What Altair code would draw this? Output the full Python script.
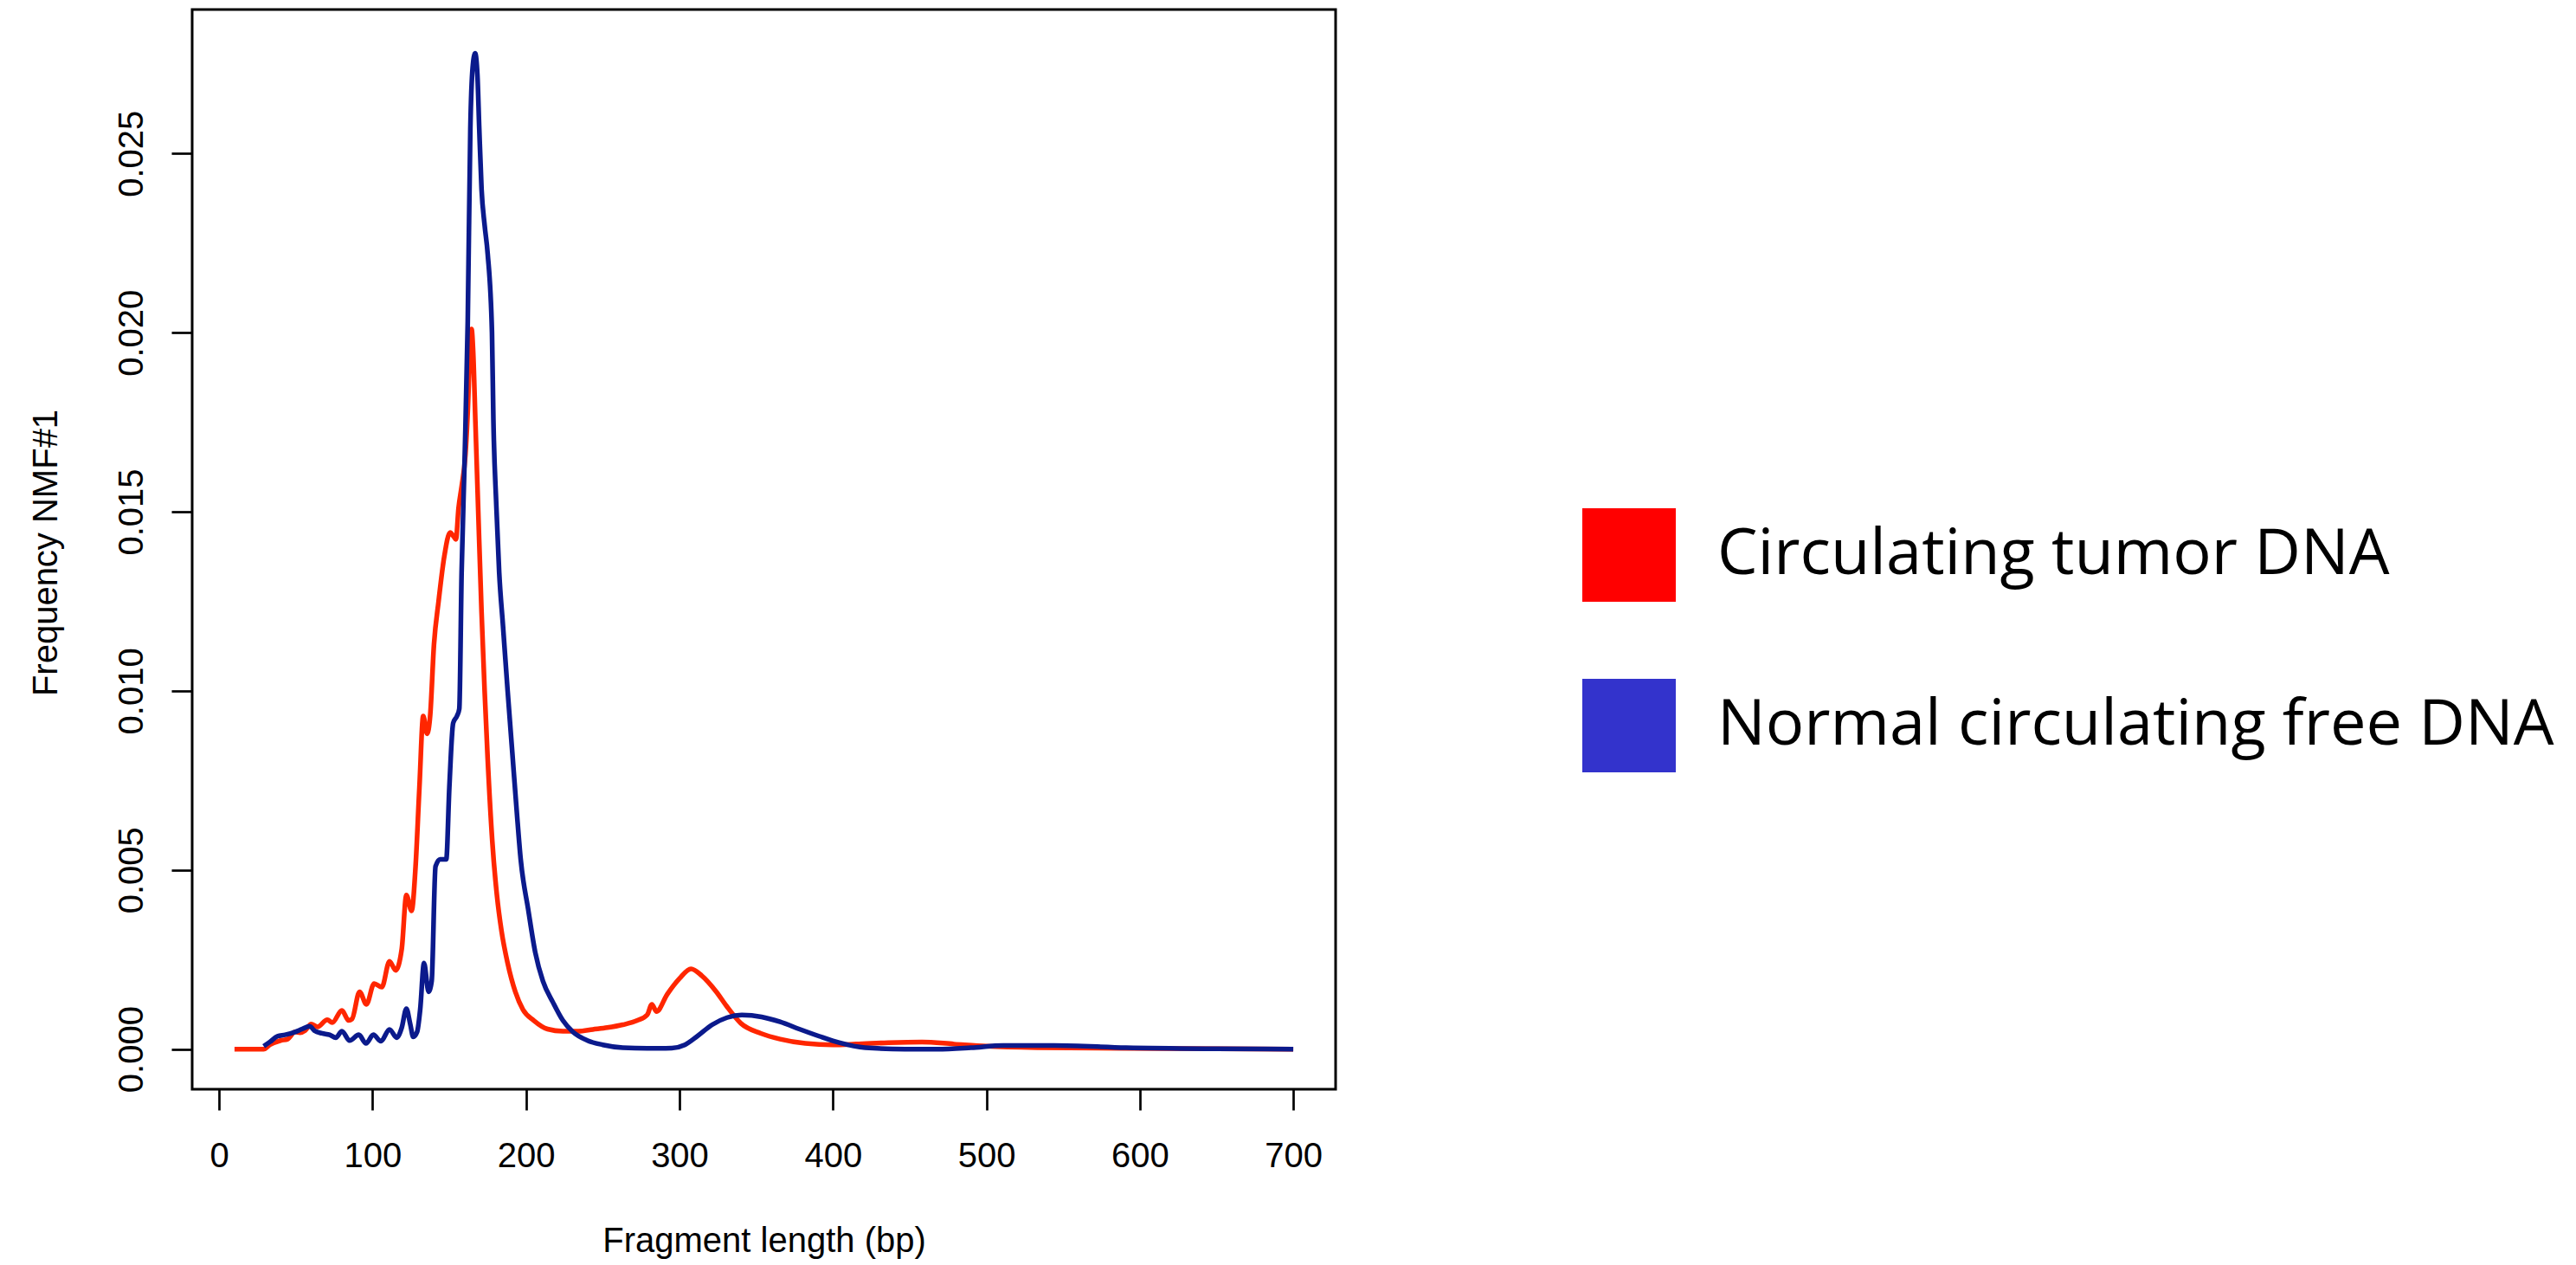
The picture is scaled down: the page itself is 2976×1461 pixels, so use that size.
import altair as alt
import pandas as pd

# ---------------- data ----------------
series_names = ["Circulating tumor DNA", "Normal circulating free DNA"]
line_colors = ["#FF2600", "#0B1A8C"]
legend_colors = ["#FF0000", "#3333CC"]

tumor_len = [10, 20, 29, 33, 40, 44.6, 49.5, 52.7, 56, 60, 64, 70.5, 73.7, 80, 84.4, 86.6,
             91.5, 96, 101, 106, 111, 115, 119, 122, 125.4, 128, 130.5, 133, 135.5, 137.5,
             140, 143, 146.7, 150.5, 153, 154.3, 156, 158, 160.5, 162, 163.5, 164.5, 165.5,
             167, 169, 171, 173, 175, 178, 181, 184, 188, 193, 198, 205, 214, 224, 234,
             243.5, 253, 263, 272.5, 279, 282, 285, 292, 300, 307.5, 314.5, 324, 330.7, 340,
             353, 365.6, 382, 400, 415, 436, 458, 479, 500, 533, 590, 650, 700]
tumor_freq = [0, 0, 0, 0.00012, 0.00024, 0.00028, 0.00048, 0.00046, 0.00052, 0.0007, 0.00062,
              0.00082, 0.00074, 0.00108, 0.0008, 0.00084, 0.0016, 0.00125, 0.00183, 0.00173,
              0.00245, 0.0022, 0.0028, 0.0043, 0.00386, 0.0051, 0.0073, 0.0093, 0.0088, 0.0093,
              0.0113, 0.0125, 0.01375, 0.01442, 0.0143, 0.01423, 0.0151, 0.0157, 0.0166, 0.0178,
              0.0195, 0.0201, 0.0195, 0.0175, 0.0148, 0.0122, 0.0100, 0.0081, 0.0058, 0.0043,
              0.0033, 0.0024, 0.0016, 0.0011, 0.0008, 0.00056, 0.0005, 0.0005, 0.00055, 0.0006,
              0.00068, 0.0008, 0.00096, 0.00125, 0.00105, 0.00153, 0.00197, 0.00224, 0.00205,
              0.0016, 0.0012, 0.00072, 0.00044, 0.00028, 0.00016, 0.00012, 0.00014, 0.00018,
              0.0002, 0.00014, 0.00008, 0.00004, 0.00002, 0.00001, 0]

normal_len = [29, 33, 38, 43, 49.5, 54, 59, 62, 67, 72, 76, 80, 85, 91, 95.7, 100.5, 105.4,
              111, 115.7, 119, 122, 124.5, 126.5, 129, 131, 133.5, 136.5, 138.5, 141, 144, 148,
              150, 152.5, 155, 156.5, 158, 160, 162, 163.7, 165.2, 166.8, 168.3, 169.5, 171,
              173, 175, 177.8, 178.7, 180.6, 182.5, 185, 188, 191, 194, 196.5, 201.4, 206, 211,
              217.6, 224, 230.5, 240, 250, 263, 279, 295, 303.5, 311.6, 321.3, 331, 340.6,
              353.5, 365.6, 378, 391, 404, 421, 447, 468, 490, 511, 544, 591, 650, 700]
normal_freq = [0.00008, 0.0002, 0.00036, 0.0004, 0.00048, 0.00056, 0.00064, 0.00052, 0.00044,
               0.0004, 0.00032, 0.0005, 0.00024, 0.0004, 0.00016, 0.0004, 0.00022, 0.00055,
               0.00032, 0.0006, 0.00113, 0.0007, 0.00034, 0.00048, 0.0011, 0.0024, 0.0016,
               0.0019, 0.0051, 0.0053, 0.0053, 0.0073, 0.0091, 0.0093, 0.0095, 0.0133, 0.0165,
               0.0203, 0.0257, 0.0274, 0.0278, 0.0272, 0.0257, 0.0240, 0.0230, 0.0222, 0.0200,
               0.0176, 0.0152, 0.0133, 0.0118, 0.0100, 0.0083, 0.0066, 0.0053, 0.0039, 0.0027,
               0.0019, 0.0013, 0.0008, 0.00048, 0.00024, 0.00012, 0.00004, 0.00002, 0.00003,
               0.00012, 0.00036, 0.00068, 0.00088, 0.00095, 0.0009, 0.00076, 0.00056, 0.00036,
               0.00018, 0.00004, 0, 0, 0.00004, 0.0001, 0.0001, 0.00004, 0.00001, 0]

x_ticks = [0, 100, 200, 300, 400, 500, 600, 700]
y_ticks = [0.000, 0.005, 0.010, 0.015, 0.020, 0.025]

assert len(tumor_len) == len(tumor_freq)
assert len(normal_len) == len(normal_freq)

df = pd.concat([
    pd.DataFrame({"length": tumor_len, "freq": tumor_freq, "series": series_names[0], "order": range(len(tumor_len))}),
    pd.DataFrame({"length": normal_len, "freq": normal_freq, "series": series_names[1], "order": range(len(normal_len))}),
])

# ---------------- layout ----------------
W, H = 1321, 1247
PAD_L, PAD_T = 222, 11
PAD_R = 2976 - PAD_L - W
PAD_B = 1461 - PAD_T - H

x_scale = alt.Scale(domain=[-17.6, 727.6], nice=False, zero=False)
y_scale = alt.Scale(domain=[-0.00112, 0.02902], nice=False, zero=False)

axis_font = "Liberation Sans"

x_axis = alt.Axis(
    values=x_ticks, title="Fragment length (bp)", grid=False, domain=False,
    tickSize=24, tickWidth=2.7, tickColor="black",
    labelFont=axis_font, labelFontSize=40, labelColor="black",
    labelBaseline="alphabetic", labelPadding=65, labelFlush=False, labelOverlap=False,
    titleFont=axis_font, titleFontSize=40, titleFontWeight="normal", titleColor="black",
    titleX=W / 2, titleY=187, titleBaseline="alphabetic", titleAlign="center",
)
y_axis = alt.Axis(
    values=y_ticks, format=".3f", title="Frequency NMF#1", grid=False, domain=False,
    tickSize=24, tickWidth=2.7, tickColor="black",
    labelFont=axis_font, labelFontSize=40, labelColor="black",
    labelAngle=270, labelAlign="center", labelBaseline="alphabetic", labelPadding=34,
    labelFlush=False, labelOverlap=False,
    titleFont=axis_font, titleFontSize=40, titleFontWeight="normal", titleColor="black",
    titleAngle=270, titleX=-157, titleY=627, titleBaseline="alphabetic", titleAlign="center",
)

lines = alt.Chart(df).mark_line(strokeWidth=5.5, interpolate="monotone", clip=True).encode(
    x=alt.X("length:Q", scale=x_scale, axis=x_axis),
    y=alt.Y("freq:Q", scale=y_scale, axis=y_axis),
    stroke=alt.Stroke("series:N", scale=alt.Scale(domain=series_names, range=line_colors), legend=None),
    order="order:Q",
)

# legend entries (filled squares); the helper marks themselves sit outside the clipped view
legend_df = pd.DataFrame({"entry": series_names})
legend_layer = alt.Chart(legend_df).mark_square(clip=True).encode(
    x=alt.value(-5000),
    y=alt.value(-5000),
    fill=alt.Fill(
        "entry:N",
        scale=alt.Scale(range=legend_colors),
        legend=alt.Legend(
            title=None, orient="none", legendX=1606, legendY=576,
            symbolType="square", symbolSize=108 * 108, symbolStrokeWidth=0, symbolOpacity=1,
            labelFont="Open Sans", labelFontSize=74, labelColor="black",
            labelOffset=48, labelLimit=3000, rowPadding=89, padding=0,
        ),
    ),
)

chart = alt.layer(lines, legend_layer).properties(
    width=W, height=H,
    autosize=alt.AutoSizeParams(type="none"),
    padding={"left": PAD_L, "top": PAD_T, "right": PAD_R, "bottom": PAD_B},
    background="white",
).configure_view(stroke="black", strokeWidth=3)

chart.save("out.html", embed_options={"renderer": "svg", "actions": False})
